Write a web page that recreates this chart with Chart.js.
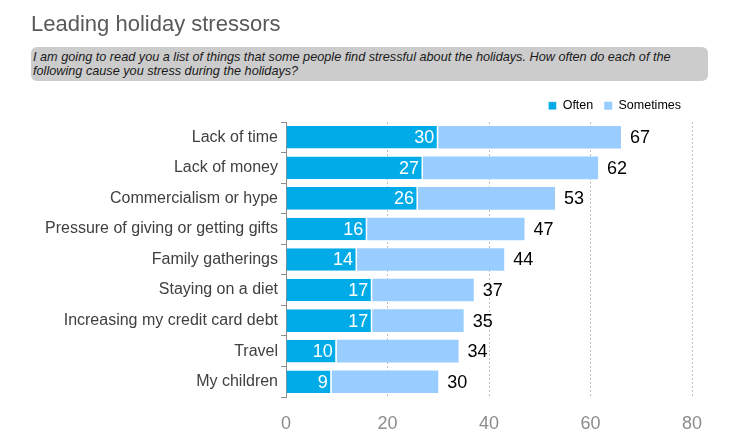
<!DOCTYPE html>
<html>
<head>
<meta charset="utf-8">
<script src="https://cdn.jsdelivr.net/npm/chart.js@4/dist/chart.umd.min.js"></script>
<style>
  html, body { margin:0; padding:0; background:#fff; }
  body { width:739px; height:448px; position:relative; overflow:hidden; font-family:"Liberation Sans", Arial, sans-serif; }
  #title { position:absolute; left:31px; top:13px; font-size:22px; line-height:22px; color:#595959; white-space:nowrap; }
  #sub { position:absolute; left:31px; top:47px; width:677px; height:34px; background:#cccccc; border-radius:6px;
         font-size:12.7px; font-style:italic; color:#1a1a1a; line-height:14.3px; box-sizing:border-box; padding:3px 0 0 2px; }
  #wrap { position:absolute; left:0; top:0; width:739px; height:448px; }
</style>
</head>
<body>
<div id="wrap"><canvas id="c" width="739" height="448"></canvas></div>
<div id="title">Leading holiday stressors</div>
<div id="sub">I am going to read you a list of things that some people find stressful about the holidays. How often do each of the following cause you stress during the holidays?</div>
<script>
const categories = ["Lack of time","Lack of money","Commercialism or hype","Pressure of giving or getting gifts","Family gatherings","Staying on a diet","Increasing my credit card debt","Travel","My children"];
const often = [30,27,26,16,14,17,17,10,9];
const sometimes = [36,34.5,27,31,29,20,18,24,21];
const totals = [67,62,53,47,44,37,35,34,30];
const xTicks = [0,20,40,60,80];
const FONT = '"Liberation Sans", Arial, sans-serif';

const labelPlugin = {
  id:'labels',
  afterDatasetsDraw(chart){
    const ctx = chart.ctx;
    const m0 = chart.getDatasetMeta(0), m1 = chart.getDatasetMeta(1);
    ctx.save();
    ctx.textBaseline = 'middle';
    ctx.font = '18px ' + FONT;
    ctx.fillStyle = '#ffffff';
    ctx.textAlign = 'right';
    m0.data.forEach((b,i)=>{ ctx.fillText(String(often[i]), b.x - 4, b.y + 1); });
    ctx.fillStyle = '#000000';
    ctx.textAlign = 'left';
    m1.data.forEach((b,i)=>{ ctx.fillText(String(totals[i]), b.x + 9, b.y + 1); });
    ctx.restore();
  }
};

const chart = new Chart(document.getElementById('c'), {
  type:'bar',
  data:{
    labels: categories,
    datasets:[
      { label:'Often', data: often, backgroundColor:'#00abe8', borderColor:'#ffffff',
        borderWidth:{left:0,top:0,bottom:0,right:1.5}, borderSkipped:false,
        categoryPercentage:0.74, barPercentage:1 },
      { label:'Sometimes', data: sometimes, backgroundColor:'#99ccff', borderWidth:0,
        categoryPercentage:0.74, barPercentage:1 }
    ]
  },
  options:{
    indexAxis:'y',
    responsive:false,
    animation:false,
    devicePixelRatio:1,
    layout:{ padding:{ top:90, right:47, left:0, bottom:0 } },
    plugins:{
      legend:{
        position:'top', align:'end',
        labels:{ boxWidth:8, boxHeight:8, padding:11, color:'#000', font:{ size:12.5, family:FONT } }
      },
      tooltip:{ enabled:false }
    },
    scales:{
      x:{
        stacked:true, min:0, max:80,
        afterBuildTicks(s){ s.ticks = xTicks.map(v=>({value:v})); },
        afterFit(s){ s.height = 51; },
        grid:{ color:'#c0c0c0', lineWidth:1, drawTicks:false },
        border:{ display:false, dash:[2,2] },
        ticks:{ color:'#8c8c8c', padding:16, font:{ size:18, family:FONT } }
      },
      y:{
        stacked:true,
        afterFit(s){ s.width = 286; },
        grid:{ drawOnChartArea:false, offset:true, color:'#8c8c8c', tickLength:5 },
        border:{ display:true, color:'#8c8c8c', width:1 },
        ticks:{ color:'#404040', padding:3, font:{ size:16, family:FONT } }
      }
    }
  },
  plugins:[labelPlugin]
});
const diff = 122 - chart.chartArea.top;
if (Math.abs(diff) > 0.5) { chart.options.layout.padding.top += diff; chart.update(); }
</script>
</body>
</html>
